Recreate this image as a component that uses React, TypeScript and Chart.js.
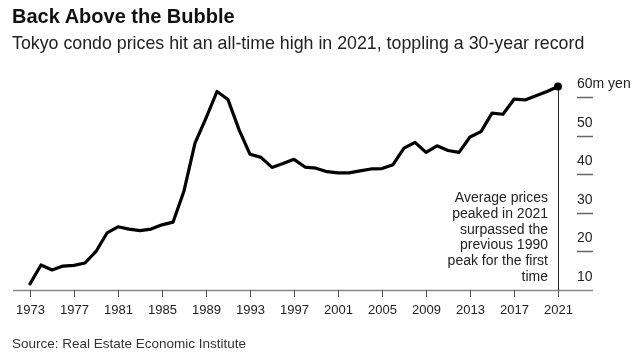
import React, { useEffect, useRef } from "react";
import { Chart, registerables } from "chart.js";

Chart.register(...registerables);

const years: string[] = [];
for (let y = 1973; y <= 2021; y++) years.push(String(y));

const prices: number[] = [
  11.6, 16.5, 15.2, 16.2, 16.4, 17.0, 20.0, 24.8, 26.4, 25.8,
  25.4, 25.8, 26.9, 27.6, 35.7, 48.1, 54.6, 61.5, 59.4, 51.6,
  45.2, 44.4, 41.8, 42.8, 43.9, 41.9, 41.6, 40.7, 40.4, 40.4,
  40.9, 41.4, 41.5, 42.5, 46.8, 48.3, 45.7, 47.4, 46.2, 45.7,
  49.7, 51.1, 55.9, 55.6, 59.5, 59.3, 60.4, 61.5, 62.8,
];

const xTickLabels: string[] = ["1973", "1977", "1981", "1985", "1989", "1993", "1997", "2001", "2005", "2009", "2013", "2017", "2021"];
const yTickValues: number[] = [10, 20, 30, 40, 50, 60];
const yTickLabels: string[] = ["10", "20", "30", "40", "50", "60m yen"];

const FONT = "'Liberation Sans', Arial, sans-serif";

const annotationLines = [
  "Average prices",
  "peaked in 2021",
  "surpassed the",
  "previous 1990",
  "peak for the first",
  "time",
];

export default function App() {
  const canvasRef = useRef<HTMLCanvasElement | null>(null);

  useEffect(() => {
    const canvas = canvasRef.current;
    if (!canvas) return;

    const axesPlugin = {
      id: "customAxes",
      beforeDatasetsDraw(chart: any) {
        const ctx = chart.ctx as CanvasRenderingContext2D;
        const xs = chart.scales.x;
        const ys = chart.scales.y;
        const base = ys.getPixelForValue(10);
        ctx.save();
        ctx.font = `14px ${FONT}`;
        ctx.textAlign = "left";
        ctx.textBaseline = "middle";
        yTickValues.forEach((v, i) => {
          const py = ys.getPixelForValue(v);
          if (v !== 10) {
            ctx.strokeStyle = "#666";
            ctx.lineWidth = 1.5;
            ctx.beginPath();
            ctx.moveTo(577, Math.round(py) + 0.5);
            ctx.lineTo(593, Math.round(py) + 0.5);
            ctx.stroke();
          }
          ctx.fillStyle = "#222";
          ctx.fillText(yTickLabels[i], 577, py - 13);
        });
        ctx.strokeStyle = "#888";
        ctx.lineWidth = 1.5;
        ctx.beginPath();
        ctx.moveTo(13, Math.round(base) + 0.5);
        ctx.lineTo(593, Math.round(base) + 0.5);
        ctx.stroke();
        ctx.font = `13px ${FONT}`;
        ctx.textAlign = "center";
        ctx.textBaseline = "middle";
        xTickLabels.forEach((lab) => {
          const idx = years.indexOf(lab);
          const px = Math.round(xs.getPixelForValue(idx)) + 0.5;
          ctx.strokeStyle = "#555";
          ctx.lineWidth = 1;
          ctx.beginPath();
          ctx.moveTo(px, base);
          ctx.lineTo(px, base + 7);
          ctx.stroke();
          ctx.fillStyle = "#222";
          ctx.fillText(lab, px, base + 20);
        });
        const last = years.length - 1;
        const lx = Math.round(xs.getPixelForValue(last)) + 0.5;
        ctx.strokeStyle = "#222";
        ctx.lineWidth = 1;
        ctx.beginPath();
        ctx.moveTo(lx, ys.getPixelForValue(prices[last]));
        ctx.lineTo(lx, base);
        ctx.stroke();
        ctx.restore();
      },
    };

    const chart = new Chart(canvas, {
      type: "line",
      data: {
        labels: years,
        datasets: [
          {
            data: prices,
            borderColor: "#000",
            backgroundColor: "#000",
            borderWidth: 3.2,
            tension: 0,
            borderJoinStyle: "round",
            borderCapStyle: "round",
            pointRadius: prices.map((_, i) => (i === prices.length - 1 ? 4 : 0)),
            pointBackgroundColor: "#000",
            pointBorderWidth: 0,
          },
        ],
      },
      options: {
        responsive: false,
        animation: false,
        devicePixelRatio: 1,
        layout: { padding: { left: 30, right: 79, top: 78, bottom: 73 } },
        plugins: { legend: { display: false }, tooltip: { enabled: false }, title: { display: false } },
        scales: {
          x: { type: "category", display: false, offset: false },
          y: { type: "linear", display: false, min: 10, max: 65 },
        },
      },
      plugins: [axesPlugin],
    });
    return () => chart.destroy();
  }, []);

  return (
    <div style={{ position: "fixed", left: 0, top: 0, width: 637, height: 363, background: "#fff", fontFamily: FONT, overflow: "hidden" }}>
      <canvas ref={canvasRef} width={637} height={363} style={{ position: "absolute", left: 0, top: 0, width: 637, height: 363 }} />
      <div style={{ position: "absolute", left: 12, top: 5, fontSize: 20, lineHeight: "22px", fontWeight: 700, color: "#111", whiteSpace: "nowrap" }}>
        Back Above the Bubble
      </div>
      <div style={{ position: "absolute", left: 12, top: 33, fontSize: 17.8, lineHeight: "20px", color: "#222", whiteSpace: "nowrap" }}>
        Tokyo condo prices hit an all-time high in 2021, toppling a 30-year record
      </div>
      <div style={{ position: "absolute", right: 637 - 548, top: 190, fontSize: 14, lineHeight: "15.8px", color: "#222", textAlign: "right", whiteSpace: "nowrap" }}>
        {annotationLines.map((l, i) => (
          <div key={i}>{l}</div>
        ))}
      </div>
      <div style={{ position: "absolute", left: 12, top: 336, fontSize: 13.5, lineHeight: "16px", color: "#333", whiteSpace: "nowrap" }}>
        Source: Real Estate Economic Institute
      </div>
    </div>
  );
}
